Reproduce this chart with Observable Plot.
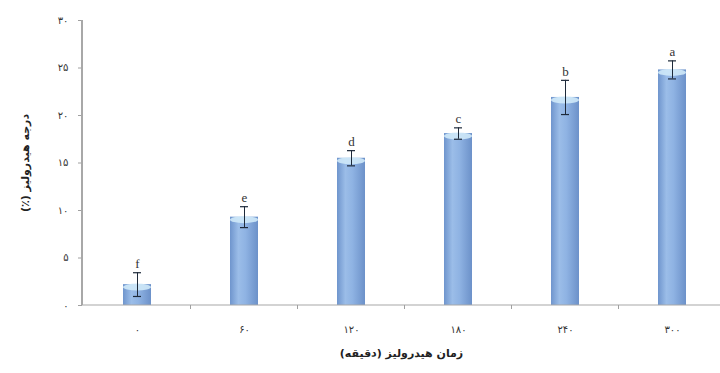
<!DOCTYPE html>
<html>
<head>
<meta charset="utf-8">
<script src="https://cdn.jsdelivr.net/npm/d3@7"></script>
<script src="https://cdn.jsdelivr.net/npm/@observablehq/plot@0.6"></script>
<style>
  html, body { margin: 0; padding: 0; background: #fff; }
  #chart { width: 720px; height: 373px; }
</style>
</head>
<body>
<div id="chart"></div>
<script>
// ---- data ----
const categories = ["0", "60", "120", "180", "240", "300"];
const xTickLabels = ["۰", "۶۰", "۱۲۰", "۱۸۰", "۲۴۰", "۳۰۰"];
const means = [2.2, 9.3, 15.5, 18.1, 21.9, 24.8];
const errors = [1.25, 1.1, 0.8, 0.6, 1.8, 0.95];
const letters = ["f", "e", "d", "c", "b", "a"];
const yTicks = [0, 5, 10, 15, 20, 25, 30];
const yTickLabels = ["۰", "۵", "۱۰", "۱۵", "۲۰", "۲۵", "۳۰"];
const xTitle = "زمان هیدرولیز (دقیقه)";
const yTitle = "درجه هیدرولیز (٪)";

const data = categories.map((c, i) => ({
  cat: c, mean: means[i], err: errors[i], letter: letters[i]
}));

// axis lines + boundary ticks drawn through the scales
function axisDecor(index, scales, values, dims) {
  const {x} = scales;
  const g = d3.create("svg:g");
  const x0 = dims.marginLeft;
  const yb = dims.height - dims.marginBottom;
  g.append("line").attr("x1", x0).attr("x2", x0)
    .attr("y1", dims.marginTop).attr("y2", yb)
    .attr("stroke", "#a8a8a8").attr("stroke-width", 2);
  g.append("line").attr("x1", x0).attr("x2", dims.width - dims.marginRight)
    .attr("y1", yb).attr("y2", yb)
    .attr("stroke", "#a8a8a8").attr("stroke-width", 1.2);
  const bw = x.bandwidth ? x.bandwidth() : 0;
  const step = x(categories[1]) - x(categories[0]);
  for (let i = 0; i < categories.length - 1; i++) {
    const bx = x(categories[i]) + bw / 2 + step / 2;
    g.append("line").attr("x1", bx).attr("x2", bx)
      .attr("y1", yb).attr("y2", yb + 4)
      .attr("stroke", "#a0a0a0");
  }
  return g.node();
}

// cylinder tops
function cylinderTops(index, scales, values, dims) {
  const {x, y} = scales;
  const g = d3.create("svg:g");
  const bw = x.bandwidth ? x.bandwidth() : 0;
  data.forEach(d => {
    const cx = x(d.cat) + bw / 2;
    const cy = y(d.mean);
    g.append("ellipse").attr("cx", cx).attr("cy", cy + 3)
      .attr("rx", bw / 2).attr("ry", 3.5)
      .attr("fill", "#cfe9f8").attr("opacity", 0.9);
  });
  return g.node();
}

const chart = Plot.plot({
  width: 720,
  height: 373,
  marginLeft: 82,
  marginRight: 0,
  marginTop: 20,
  marginBottom: 68,
  style: {fontFamily: "DejaVu Sans, sans-serif", fontSize: "10px", color: "#333", background: "#fff"},
  x: {
    domain: categories,
    paddingInner: 0.74,
    paddingOuter: 0.346,
    align: 0.54,
    tickSize: 0,
    tickPadding: 20,
    tickFormat: d => xTickLabels[categories.indexOf(d)],
    label: null
  },
  y: {
    domain: [0, 30],
    ticks: yTicks,
    tickSize: 4,
    tickPadding: 10,
    tickFormat: d => yTickLabels[yTicks.indexOf(d)],
    label: null
  },
  marks: [
    Plot.barY(data, {x: "cat", y: "mean", fill: "url(#barGrad)"}),
    cylinderTops,
    Plot.ruleX(data, {x: "cat", y1: d => d.mean - d.err, y2: d => d.mean + d.err, stroke: "#1e2a3a", strokeWidth: 1}),
    Plot.tickY(data, {x: "cat", y: d => d.mean - d.err, insetLeft: 10, insetRight: 10, stroke: "#1e2a3a", strokeWidth: 1.2}),
    Plot.tickY(data, {x: "cat", y: d => d.mean + d.err, insetLeft: 10, insetRight: 10, stroke: "#1e2a3a", strokeWidth: 1.2}),
    Plot.text(data, {x: "cat", y: d => d.mean + d.err, text: "letter", dy: -9, fontFamily: "Liberation Serif, serif", fontSize: 13, fill: "#333"}),
    axisDecor,
    Plot.text([yTitle], {text: d => d, frameAnchor: "left", dx: -57, rotate: -90, textAnchor: "middle", fontWeight: "bold", fontSize: 11, fill: "#222"}),
    Plot.text([xTitle], {text: d => d, frameAnchor: "bottom", dy: 48, textAnchor: "middle", lineAnchor: "middle", fontWeight: "bold", fontSize: 11, fill: "#222"})
  ]
});

// gradient definition for the bars
const svgNS = "http://www.w3.org/2000/svg";
const defs = document.createElementNS(svgNS, "defs");
const grad = document.createElementNS(svgNS, "linearGradient");
grad.setAttribute("id", "barGrad");
grad.setAttribute("x1", "0"); grad.setAttribute("x2", "1");
grad.setAttribute("y1", "0"); grad.setAttribute("y2", "0");
[["0%", "#6f95cd"], ["30%", "#9bbde8"], ["55%", "#8fb3e3"], ["100%", "#6c91c9"]].forEach(([o, c]) => {
  const s = document.createElementNS(svgNS, "stop");
  s.setAttribute("offset", o); s.setAttribute("stop-color", c);
  grad.appendChild(s);
});
defs.appendChild(grad);
chart.insertBefore(defs, chart.firstChild);

// axis tick colours
chart.querySelectorAll('[aria-label^="y-axis"] line, [aria-label^="y-axis"] path').forEach(el => el.setAttribute("stroke", "#a0a0a0"));

// right-to-left direction for Persian text
chart.querySelectorAll("text").forEach(t => {
  if (/[\u0600-\u06EF]/.test(t.textContent)) t.setAttribute("direction", "rtl");
});

document.getElementById("chart").appendChild(chart);
</script>
</body>
</html>
